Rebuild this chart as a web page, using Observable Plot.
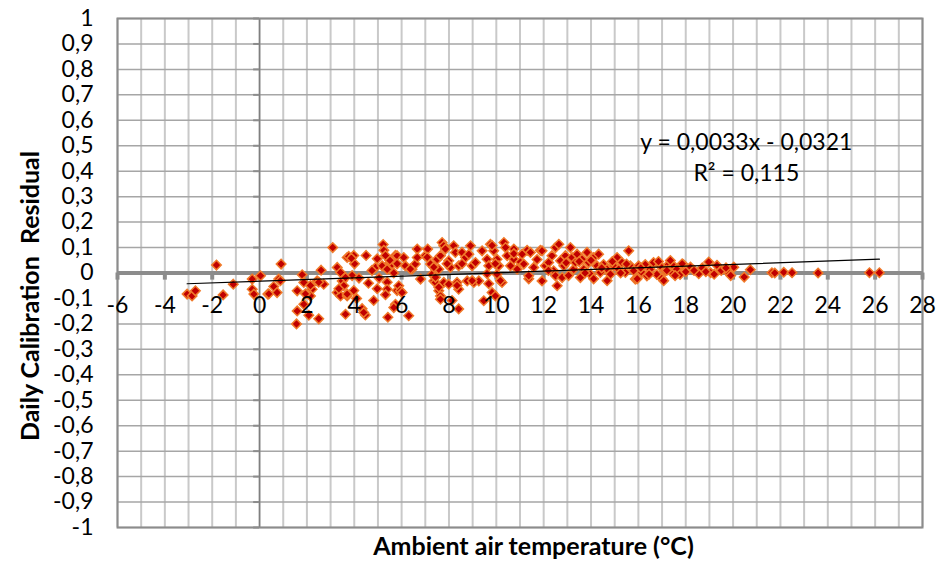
<!DOCTYPE html>
<html>
<head>
<meta charset="utf-8">
<script src="https://cdn.jsdelivr.net/npm/d3@7"></script>
<script src="https://cdn.jsdelivr.net/npm/@observablehq/plot@0.6"></script>
<style>
  html, body { margin: 0; padding: 0; background: #fff; }
  #chart { width: 936px; height: 568px; }
</style>
</head>
<body>
<div id="chart"></div>
<script>
// ---- Data ----
const temperature = [
  -3.06,-2.85,-2.71,-1.82,-1.54,-1.11,-0.31,-0.31,-0.24,0.04,0.35,0.39,0.6,0.74,0.81,0.88,0.91,
  1.59,1.8,1.87,1.59,1.87,2.08,1.56,2.22,2.15,2.43,2.6,2.5,2.71,2.15,1.94,2.5,
  3.09,3.28,3.42,3.49,3.28,3.42,3.63,3.7,3.56,3.7,3.35,3.77,3.98,4.01,3.91,3.98,4.33,4.47,4.4,
  4.5,4.82,4.97,5.22,5.25,5.32,5.39,4.97,5.42,5.74,5.81,3.88,4.9,5.18,5.39,5.39,5.32,5.6,5.67,
  5.81,5.88,5.95,5.74,5.67,3.63,3.7,4.2,4.6,4.75,5.05,5.5,4.1,5.32,5.81,
  6.09,6.16,6.02,6.3,6.44,6.58,6.66,6.8,6.66,7.0,7.1,7.22,7.29,7.36,7.5,7.64,7.71,7.78,7.85,
  7.57,7.43,7.57,7.64,7.64,7.78,7.99,7.99,8.06,8.2,8.27,8.34,8.41,8.41,8.55,8.7,8.77,8.84,8.91,
  8.98,9.05,9.12,9.26,9.4,9.47,9.61,9.68,9.75,9.82,9.89,9.96,10.03,10.03,10.1,10.24,10.32,10.39,
  10.46,10.6,10.74,10.74,10.88,8.41,8.13,6.37,7.08,7.36,7.43,7.57,7.92,8.34,8.55,8.98,9.61,9.68,
  9.82,9.96,10.17,10.74,11.02,11.3,11.37,11.86,
  11.09,11.16,11.37,11.44,11.58,11.72,11.93,11.93,12.07,12.21,12.35,12.42,12.5,12.64,12.57,12.5,
  12.71,12.78,12.85,12.92,13.13,13.2,13.27,13.34,13.41,13.55,13.62,13.69,13.83,13.9,13.97,14.11,
  14.25,14.32,14.39,14.53,14.68,14.82,14.96,15.1,15.17,15.31,15.45,15.59,15.66,15.8,15.87,16.01,
  16.15,16.29,16.36,16.5,16.64,16.78,16.92,16.99,17.13,17.27,17.41,17.48,17.62,17.76,17.9,18.04,
  14.11,14.68,15.95,12.2,12.95,13.05,13.5,13.75,14.0,14.45,14.9,15.25,15.5,16.1,16.45,16.85,
  17.07,17.35,17.85,18.2,18.55,18.97,19.32,19.05,19.82,20.03,20.47,20.73,21.64,21.76,22.14,22.49,
  23.59,25.76,26.18,17.2,17.55,18.0,18.35,18.7,18.85,19.2,19.5,19.7,19.9
];
const residual = [
  -0.083,-0.09,-0.07,0.031,-0.086,-0.044,-0.024,-0.064,-0.083,-0.011,-0.083,-0.082,-0.053,-0.077,-0.024,-0.03,0.035,
  -0.07,-0.007,-0.037,-0.149,-0.123,-0.166,-0.2,-0.064,-0.09,-0.031,0.011,-0.18,-0.044,-0.049,-0.082,-0.036,
  0.1,0.022,0.002,-0.031,-0.077,-0.09,-0.162,0.061,-0.05,-0.09,-0.062,0.065,0.069,0.036,-0.01,-0.069,-0.14,-0.165,-0.155,
  0.069,-0.108,0.056,0.112,0.089,0.023,-0.036,-0.062,-0.174,0.069,-0.069,0.058,0.022,0.028,0.015,-0.064,-0.085,0.035,0.0,
  0.068,-0.05,-0.07,-0.123,-0.136,-0.018,-0.083,-0.02,-0.04,0.01,-0.02,0.05,-0.1,0.069,0.036,
  0.061,0.028,-0.077,-0.168,0.015,0.035,0.094,-0.024,0.061,0.068,0.094,0.035,-0.005,-0.031,0.054,0.068,0.12,0.107,0.094,
  0.015,-0.037,-0.07,-0.09,-0.103,-0.037,0.048,-0.044,0.022,0.107,0.081,-0.037,0.028,-0.064,0.081,0.061,-0.031,0.074,0.107,
  0.028,-0.037,0.041,-0.031,0.087,-0.109,0.054,0.028,0.113,-0.077,0.087,-0.09,0.054,-0.005,0.028,-0.037,0.12,0.1,
  0.068,0.028,0.054,0.094,0.015,-0.141,-0.108,0.016,0.062,0.023,-0.017,-0.056,0.036,-0.049,0.036,-0.03,-0.003,-0.042,
  0.108,0.036,-0.03,0.076,0.043,0.089,-0.023,0.089,
  0.074,0.035,-0.011,0.081,0.022,0.053,0.087,-0.031,0.028,0.041,0.068,0.009,0.1,0.113,-0.05,-0.011,
  0.048,-0.018,0.028,0.068,0.1,0.061,0.015,0.041,0.074,-0.018,0.054,0.015,0.081,0.041,-0.005,0.061,
  0.028,0.074,0.002,0.033,0.015,-0.005,0.028,0.061,0.015,0.041,0.002,0.087,0.028,0.009,-0.024,0.028,
  0.002,0.033,-0.011,0.015,0.041,-0.006,0.028,-0.022,0.009,0.033,0.002,0.028,0.015,-0.006,0.033,0.015,
  -0.023,-0.03,-0.023,0.01,0.04,-0.01,0.045,0.0,0.05,0.02,0.045,0.0,0.035,0.02,-0.005,0.045,
  -0.03,0.049,0.036,0.023,-0.003,0.043,0.03,0.001,0.0,0.023,-0.016,0.013,0.001,0.0,0.003,0.001,
  0.0,0.001,0.001,0.01,-0.01,0.005,0.01,0.02,0.005,-0.005,0.01,0.02,-0.01
];

// Trend line (from the equation printed on the chart)
const trendSlope = 0.0033;
const trendIntercept = -0.0321;
const trendX = [-3.06, 26.18];
const equationLines = ["y = 0,0033x - 0,0321", "R² = 0,115"];

// Axes
const xGrid = [-6,-5,-4,-3,-2,-1,0,1,2,3,4,5,6,7,8,9,10,11,12,13,14,15,16,17,18,19,20,21,22,23,24,25,26,27,28];
const xTicks = [-6,-4,-2,0,2,4,6,8,10,12,14,16,18,20,22,24,26,28];
const xTickLabels = ["-6","-4","-2","0","2","4","6","8","10","12","14","16","18","20","22","24","26","28"];
const yTicks = [-1,-0.9,-0.8,-0.7,-0.6,-0.5,-0.4,-0.3,-0.2,-0.1,0,0.1,0.2,0.3,0.4,0.5,0.6,0.7,0.8,0.9,1];
const yTickLabels = ["-1","-0,9","-0,8","-0,7","-0,6","-0,5","-0,4","-0,3","-0,2","-0,1","0","0,1","0,2","0,3","0,4","0,5","0,6","0,7","0,8","0,9","1"];
// horizontal gridlines (the -0,1 one is hidden behind the x-axis labels in the reference)
const yGrid = [-1,-0.9,-0.8,-0.7,-0.6,-0.5,-0.4,-0.3,-0.2,0.1,0.2,0.3,0.4,0.5,0.6,0.7,0.8,0.9,1];
const xTitle = "Ambient air temperature (°C)";
const yTitle = "Daily Calibration  Residual";

const points = temperature.map((t, i) => ({t, r: residual[i]}));
const trend = trendX.map(x => ({x, y: trendSlope * x + trendIntercept}));

const font = "Lato, 'Open Sans', sans-serif";

const chart = Plot.plot({
  width: 936,
  height: 568,
  marginLeft: 117,
  marginRight: 14,
  marginTop: 18,
  marginBottom: 41,
  x: {domain: [-6, 28], axis: null},
  y: {domain: [-1, 1], axis: null},
  style: {fontFamily: font, background: "#fff", color: "#000"},
  marks: [
    Plot.ruleX(xGrid, {stroke: "#c9c9c9", strokeWidth: 2}),
    Plot.ruleY(yGrid, {stroke: "#a6a6a6", strokeWidth: 1.5}),
    Plot.ruleX([0], {stroke: "#7f7f7f", strokeWidth: 1.5}),
    Plot.ruleY(yTicks, {x1: -0.25, x2: 0, stroke: "#8c8c8c", strokeWidth: 2}),
    Plot.ruleY([0], {stroke: "#8c8c8c", strokeWidth: 4}),
    Plot.ruleX(xTicks, {y1: 0, y2: -0.028, stroke: "#8c8c8c", strokeWidth: 4}),
    Plot.frame({stroke: "#8c8c8c", strokeWidth: 2}),
    Plot.dot(points, {x: "t", y: "r", symbol: "diamond2", r: 4.3, fill: "#c00000", stroke: "#f07a2a", strokeWidth: 1.5}),
    Plot.line(trend, {x: "x", y: "y", stroke: "#000", strokeWidth: 1.2}),
    Plot.text(xTicks, {x: d => d, y: 0, text: (d, i) => xTickLabels[i], dy: 33, fontSize: 23, fill: "#000"}),
    Plot.text(yTicks, {x: -6, y: d => d, text: (d, i) => yTickLabels[i], textAnchor: "end", dx: -24, fontSize: 23, fill: "#000"}),
    Plot.text([equationLines.join("\n")], {x: 20.56, y: 0.46, text: d => d, fontSize: 23, lineHeight: 1.35, fill: "#000"}),
    Plot.text([xTitle], {frameAnchor: "bottom", dx: 13.5, dy: 27, fontSize: 25, fontWeight: "bold", fill: "#000"}),
    Plot.text([yTitle], {frameAnchor: "left", textAnchor: "middle", dx: -87, dy: 23, rotate: -90, fontSize: 25, fontWeight: "bold", fill: "#000"})
  ]
});
document.getElementById("chart").appendChild(chart);
</script>
</body>
</html>
